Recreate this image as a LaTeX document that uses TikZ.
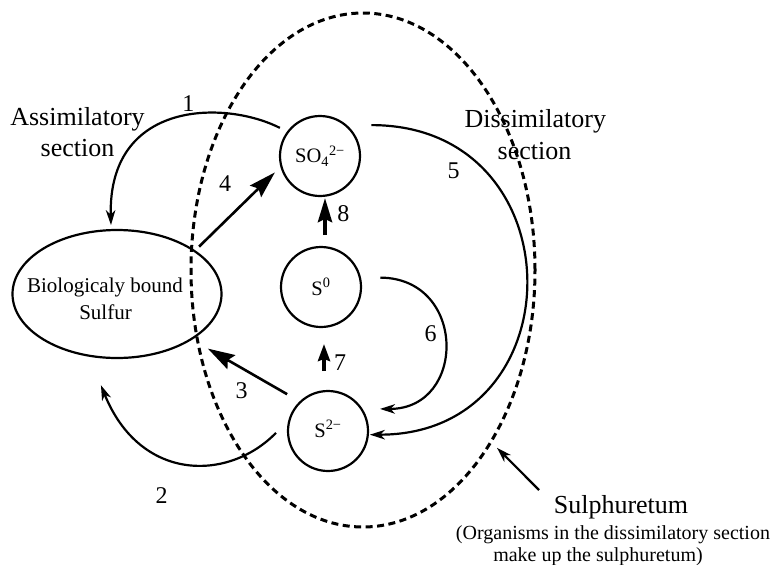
\documentclass[tikz,border=0pt]{standalone}
\usepackage{fontspec}
\setmainfont{Liberation Serif}
\usetikzlibrary{arrows.meta,shapes.geometric}

\begin{document}
\begin{tikzpicture}[x=1pt,y=1pt,
  species/.style={circle, draw, line width=2.2pt, minimum size=80pt,
    inner sep=0pt, outer sep=0pt, font=\fontsize{20.5}{24}\selectfont},
  pool/.style={ellipse, draw, line width=2.2pt, minimum width=209pt,
    minimum height=128pt, inner sep=0pt, outer sep=0pt},
  zone/.style={ellipse, draw, line width=3pt, dash pattern=on 7pt off 4.5pt,
    minimum width=344pt, minimum height=514pt, inner sep=0pt, outer sep=0pt},
  flow/.style={line width=2.2pt, -{Stealth[length=15pt,width=9.5pt,inset=4.5pt]}},
  heavy/.style={line width=2.6pt, -{Stealth[length=27pt,width=16pt,inset=4pt]}},
  upthick/.style={line width=4pt, -{Stealth[length=24pt,width=14pt,inset=3pt]}},
  upthin/.style={line width=3.5pt, -{Stealth[length=17pt,width=12pt,inset=2pt]}},
  num/.style={anchor=base, inner sep=0pt, font=\fontsize{24}{28}\selectfont},
  big/.style={anchor=base, inner sep=0pt, font=\fontsize{26}{31}\selectfont},
  mid/.style={anchor=base, inner sep=0pt, font=\fontsize{21}{25}\selectfont},
  note/.style={anchor=base, inner sep=0pt, font=\fontsize{20}{22}\selectfont}]
\useasboundingbox (0,0) rectangle (774,-565);

% sulphuretum boundary and the sulfur pools
\node[zone] (sulph) at (363,-270) {};
\node[pool] (bbs) at (117,-294) {};
\node[species] (so4) at (320,-156) {SO\textsubscript{4}\textsuperscript{2−}};
\node[species] (s0) at (321,-287) {S\textsuperscript{0}};
\node[species] (s2) at (328,-431) {\raisebox{5pt}{S\textsuperscript{2−}}};

% text of the pool and the section headings
\node[mid] (bbsA) at (105,-292.7) {Biologicaly bound};
\node[mid] (bbsB) at (105.5,-319) {Sulfur};
\node[big] (assA) at (77.5,-125) {Assimilatory};
\node[big] (assB) at (77.5,-156) {section};
\node[big] (disA) at (535.3,-127.7) {Dissimilatory};
\node[big] (disB) at (534.5,-159.3) {section};

% transformations
\draw[flow] ([shift={(145:9)}]so4.145) .. controls (225,-100) and (108,-100) .. ([shift={(95:5)}]bbs.95);
\draw[flow] ([shift={(182:12)}]s2.182) .. controls (228,-482) and (140,-482) .. ([shift={(260:28)}]bbs.260);
\draw[heavy] ([shift={(138:15)}]s2.138) -- ([shift={(-31:19)}]bbs.-31);
\draw[heavy] ([shift={(30:7)}]bbs.30) -- ([shift={(200:8)}]so4.200);
\draw[flow] ([shift={(31:20)}]so4.31) .. controls (578,-125) and (578,-435) .. ([shift={(-5:2)}]s2.-5);
\draw[flow] ([shift={(9:20)}]s0.9) .. controls (467,-278) and (467,-409) .. ([shift={(23:16.5)}]s2.23);
\draw[upthin] ([shift={(-4,20)}]s2.north) -- ([shift={(3,-17)}]s0.south);
\draw[upthick] ([shift={(4,12)}]s0.north) -- ([shift={(5,-2)}]so4.south);

% step numbers
\node[num] (n1) at (188.3,-111.7) {1};
\node[num] (n2) at (161.7,-503.7) {2};
\node[num] (n3) at (241.7,-398.7) {3};
\node[num] (n4) at (225,-191.7) {4};
\node[num] (n5) at (453.7,-178) {5};
\node[num] (n6) at (430.7,-341.7) {6};
\node[num] (n7) at (340,-370) {7};
\node[num] (n8) at (343.3,-221.7) {8};

% sulphuretum caption and pointer
\node[big] (supA) at (621,-513) {Sulphuretum};
\node[note] (supB) at (613,-539.7) {(Organisms in the dissimilatory section};
\node[note] (supC) at (598,-561) {make up the sulphuretum)};
\coordinate (stail) at (539,-490);
\draw[flow] (stail) -- ([shift={(-53:9)}]sulph.-53);
\end{tikzpicture}
\end{document}
